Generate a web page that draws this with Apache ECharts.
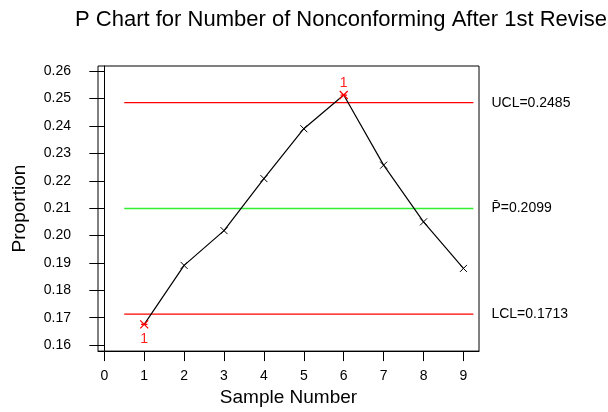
<!DOCTYPE html>
<html>
<head>
<meta charset="utf-8">
<script src="https://cdn.jsdelivr.net/npm/echarts@6/dist/echarts.min.js"></script>
<style>
html,body{margin:0;padding:0;background:#fff;}
#chart{width:608px;height:412px;}
</style>
</head>
<body>
<div id="chart"></div>
<script>
// ---- data ----
const titleText = 'P Chart for Number of Nonconforming After 1st Revise';
const sampleNumbers = [1, 2, 3, 4, 5, 6, 7, 8, 9];
const proportions = [0.1676, 0.1891, 0.2018, 0.2208, 0.2390, 0.2513, 0.2257, 0.2050, 0.1880];
const outOfControl = [1, 6];          // sample numbers flagged with test "1"
const xTicks = [0, 1, 2, 3, 4, 5, 6, 7, 8, 9];
const yTicks = [0.16, 0.17, 0.18, 0.19, 0.20, 0.21, 0.22, 0.23, 0.24, 0.25, 0.26];
const ucl = 0.2485;
const pbar = 0.2099;
const lcl = 0.1713;
const limitSpan = [0.5, 9.25];

const FONT = 'Liberation Sans, Arial, Helvetica, sans-serif';
const RED = '#ff0000';
const GREEN = '#33ee33';
const chart = echarts.init(document.getElementById('chart'), null, {renderer: 'canvas'});

const xMark = 'path://M0,0L10,10M0,10L10,0';
const starMark = 'path://M0,0L10,10M0,10L10,0M1,5L9,5';

const seriesData = sampleNumbers.map((s, i) => {
  const item = {value: [s, proportions[i]]};
  if (outOfControl.includes(s)) {
    const below = proportions[i] < lcl;
    item.symbol = starMark;
    item.symbolSize = 8;
    item.itemStyle = {color: RED, borderColor: RED, borderWidth: 1.2};
    item.label = {
      show: true, formatter: '1', color: '#ff2020', fontSize: 14, fontFamily: FONT,
      position: below ? 'bottom' : 'top', distance: below ? 3 : 0
    };
  }
  return item;
});

function limitSeries(v, color, text, width) {
  return {
    type: 'line',
    data: [[limitSpan[0], v], [limitSpan[1], v]],
    symbol: 'none',
    silent: true,
    z: 3,
    lineStyle: {color: color, width: width, type: 'solid'},
    itemStyle: {color: color},
    endLabel: {show: true, formatter: text, color: '#000', fontSize: 14, fontFamily: FONT, distance: 18}
  };
}

const option = {
  backgroundColor: '#ffffff',
  animation: false,
  title: {
    text: titleText, left: 336, top: 4, textAlign: 'center',
    textStyle: {fontFamily: FONT, fontSize: 22, fontWeight: 'normal', color: '#000'}
  },
  grid: {left: 98, top: 66, right: 129, bottom: 60, show: true, borderColor: '#000', borderWidth: 1, backgroundColor: 'transparent'},
  xAxis: {
    type: 'value', min: -0.158, max: 9.39,
    name: 'Sample Number', nameLocation: 'middle', nameGap: 35,
    nameTextStyle: {fontFamily: FONT, fontSize: 19, color: '#000'},
    axisLine: {show: true, lineStyle: {color: '#000', width: 1}},
    axisTick: {show: true, length: 10, lineStyle: {color: '#000'}, customValues: xTicks},
    axisLabel: {fontFamily: FONT, fontSize: 14, color: '#000', margin: 18, customValues: xTicks, formatter: v => String(v)},
    splitLine: {show: false}
  },
  yAxis: {
    type: 'value', min: 0.15782, max: 0.2619,
    name: 'Proportion', nameLocation: 'middle', nameGap: 69,
    nameTextStyle: {fontFamily: FONT, fontSize: 19, color: '#000'},
    axisLine: {show: true, lineStyle: {color: '#000', width: 1}},
    axisTick: {show: true, length: 15, lineStyle: {color: '#000'}, customValues: yTicks},
    axisLabel: {fontFamily: FONT, fontSize: 14, color: '#000', margin: 27, customValues: yTicks, formatter: v => v.toFixed(2)},
    splitLine: {show: false}
  },
  series: [
    limitSeries(ucl, RED, 'UCL=' + ucl.toFixed(4), 1.3),
    limitSeries(pbar, GREEN, 'P\u0304=' + pbar.toFixed(4), 1.6),
    limitSeries(lcl, RED, 'LCL=' + lcl.toFixed(4), 1.3),
    {
      type: 'line',
      data: seriesData,
      symbol: xMark,
      symbolSize: 7,
      itemStyle: {color: '#000', borderColor: '#000', borderWidth: 1},
      lineStyle: {color: '#000', width: 1.2},
      z: 5
    }
  ]
};
chart.setOption(option);
</script>
</body>
</html>
